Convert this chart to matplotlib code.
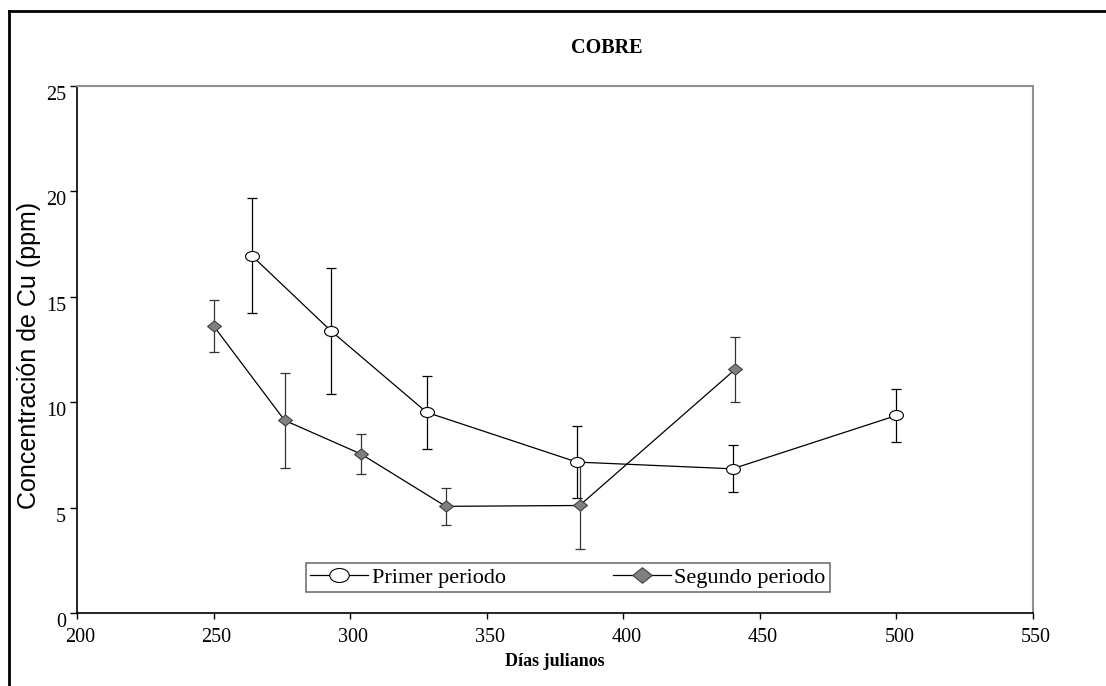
import numpy as np
import matplotlib
matplotlib.use("Agg")
import matplotlib.pyplot as plt
from matplotlib.path import Path
from matplotlib.lines import Line2D
from matplotlib.transforms import ScaledTranslation

# datos
dias_p1 = [264, 293, 328, 383, 440, 500]
cu_p1 = [16.95, 13.38, 9.52, 7.16, 6.84, 9.37]
err_p1 = [2.74, 2.97, 1.72, 1.71, 1.11, 1.24]

dias_p2 = [250, 276, 304, 335, 384, 441]
cu_p2 = [13.62, 9.14, 7.54, 5.06, 5.10, 11.56]
err_p2 = [1.22, 2.26, 0.94, 0.87, 2.07, 1.55]

xticks = [200, 250, 300, 350, 400, 450, 500, 550]
yticks = [0, 5, 10, 15, 20, 25]

serif = "Liberation Serif"
sans = "Liberation Sans"

# marcadores: elipse y rombo achatado
circ = Path.unit_circle()
ellipse = Path(circ.vertices * np.array([1.0, 0.72]), circ.codes)
diamond = Path([(0, 1), (1, 0), (0, -1), (-1, 0), (0, 1)],
               [Path.MOVETO, Path.LINETO, Path.LINETO, Path.LINETO, Path.CLOSEPOLY])
diamond = Path(diamond.vertices * np.array([1.0, 0.8]), diamond.codes)

fig = plt.figure(figsize=(11.06, 6.86), dpi=100)
ax = fig.add_axes([77 / 1106, 1 - 613 / 686, (1033 - 77) / 1106, (613 - 86) / 686])

ax.errorbar(dias_p1, cu_p1, yerr=err_p1, fmt="none", ecolor="black",
            elinewidth=0.9, capsize=3.5, capthick=0.9, zorder=2)
ax.errorbar(dias_p2, cu_p2, yerr=err_p2, fmt="none", ecolor="#333333",
            elinewidth=0.9, capsize=3.5, capthick=0.9, zorder=2)

ax.plot(dias_p1, cu_p1, color="black", lw=0.9, marker=ellipse, ms=10,
        mfc="white", mec="black", mew=0.8, zorder=3, label="Primer periodo")
ax.plot(dias_p2, cu_p2, color="black", lw=0.9, marker=diamond, ms=10,
        mfc="#808080", mec="#404040", mew=0.8, zorder=3, label="Segundo periodo")

ax.set_xlim(200, 550)
ax.set_ylim(0, 25)
ax.set_xticks(xticks)
ax.set_yticks(yticks)

for s in ["left", "bottom"]:
    ax.spines[s].set_color("black")
    ax.spines[s].set_linewidth(1.2)
for s in ["top", "right"]:
    ax.spines[s].set_color("#909090")
    ax.spines[s].set_linewidth(1.5)

ax.tick_params(axis="x", direction="out", length=4, width=1, pad=7,
               labelsize=14.5, top=False)
ax.tick_params(axis="y", direction="out", length=5, width=1, pad=3,
               labelsize=14.5, right=False)
for lab in ax.get_xticklabels() + ax.get_yticklabels():
    lab.set_fontfamily(serif)
for lab in ax.get_yticklabels():
    lab.set_transform(lab.get_transform() + ScaledTranslation(0, -7 / 100, fig.dpi_scale_trans))
for lab in ax.get_xticklabels():
    lab.set_transform(lab.get_transform() + ScaledTranslation(3 / 100, 0, fig.dpi_scale_trans))

fig.text(607 / 1106, 1 - 48 / 686, "COBRE", ha="center", va="center",
         fontsize=14.5, fontweight="bold", family=serif)
fig.text(555 / 1106, 1 - 661 / 686, "Días julianos", ha="center", va="center",
         fontsize=13, fontweight="bold", family=serif)
fig.text(29 / 1106, 1 - 355 / 686, "Concentración de Cu (ppm)", ha="center",
         va="center", rotation=90, fontsize=18, family=sans)

leg = fig.legend(loc="lower left", ncol=2, mode="expand",
                 bbox_to_anchor=(306 / 1106, 1 - 592 / 686, (830 - 306) / 1106, 31 / 686),
                 bbox_transform=fig.transFigure, prop={"family": serif, "size": 16},
                 frameon=True, fancybox=False, borderaxespad=0, borderpad=0.2,
                 handlelength=2.6, handletextpad=0.15, columnspacing=1.0,
                 markerscale=1.4)
leg.get_frame().set_edgecolor("#505050")
leg.get_frame().set_linewidth(1.2)

# marco exterior
fig.add_artist(Line2D([9 / 1106, 9 / 1106], [0, 1 - 11 / 686], color="black",
                      lw=2, transform=fig.transFigure))
fig.add_artist(Line2D([9 / 1106, 1], [1 - 11 / 686, 1 - 11 / 686], color="black",
                      lw=2, transform=fig.transFigure))

fig.savefig("out.png", dpi=100, facecolor="white")
